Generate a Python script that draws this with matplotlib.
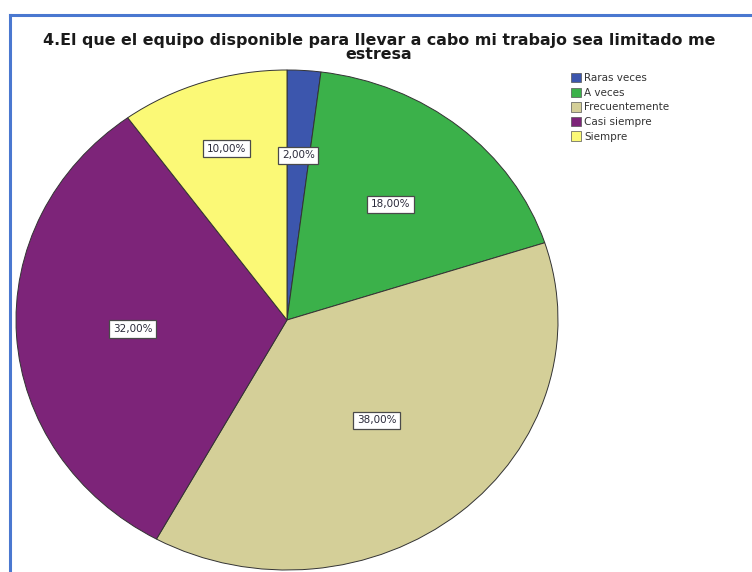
import numpy as np
import matplotlib.pyplot as plt
from matplotlib.lines import Line2D
from matplotlib.patches import Patch

categories = ['Raras veces', 'A veces', 'Frecuentemente', 'Casi siempre', 'Siempre']
percentages = [2.0, 18.0, 38.0, 32.0, 10.0]
colors = ['#3c56ad', '#3bb14a', '#d4cf98', '#7d2479', '#fbf976']
title = '4.El que el equipo disponible para llevar a cabo mi trabajo sea limitado me\nestresa'

# radial placement of each percentage box (fraction of radius)
label_radius = [0.66, 0.60, 0.52, 0.57, 0.72]

W, H = 752, 572
fig = plt.figure(figsize=(W / 100, H / 100), dpi=100)

# blue frame around the panel (left and top edges visible)
fig.add_artist(Line2D([9.5 / W, 9.5 / W], [0, 1 - 15 / H], transform=fig.transFigure,
                      color='#4a78d0', lw=2.2))
fig.add_artist(Line2D([9.5 / W, 1], [1 - 15 / H, 1 - 15 / H], transform=fig.transFigure,
                      color='#4a78d0', lw=2.2))

fig.text(379 / W, 1 - 47.5 / H, title, ha='center', va='center', fontsize=11.4,
         fontweight='bold', linespacing=0.88, color='#1a1a1a')

# pie is drawn slightly wider than tall
cx, cy, rx, ry = 287, 320, 271, 250
ax = fig.add_axes([(cx - rx) / W, 1 - (cy + ry) / H, 2 * rx / W, 2 * ry / H])
wedges, _ = ax.pie(percentages, colors=colors, startangle=90, counterclock=False,
                   wedgeprops=dict(edgecolor='#333333', linewidth=0.7))
ax.set_aspect('auto')
ax.set_xlim(-1, 1)
ax.set_ylim(-1, 1)
for w in wedges:
    w.set_clip_on(False)

for w, p, r in zip(wedges, percentages, label_radius):
    mid = np.deg2rad((w.theta1 + w.theta2) / 2)
    ax.text(r * np.cos(mid), r * np.sin(mid), f'{p:.2f}%'.replace('.', ','),
            ha='center', va='center', fontsize=7.5, color='#2a2a3a',
            bbox=dict(boxstyle='square,pad=0.35', fc='white', ec='#4a4a4a', lw=0.9))

handles = [Patch(facecolor=c, edgecolor='#555555', linewidth=0.5) for c in colors]
fig.legend(handles, categories, loc='upper left', bbox_to_anchor=(571 / W, 1 - 73 / H),
           frameon=False, fontsize=7.5, handlelength=0.95, handleheight=1.0,
           handletextpad=0.3, labelspacing=0.42, borderpad=0, borderaxespad=0,
           labelcolor='#333333')

fig.savefig('out.png', dpi=100)
